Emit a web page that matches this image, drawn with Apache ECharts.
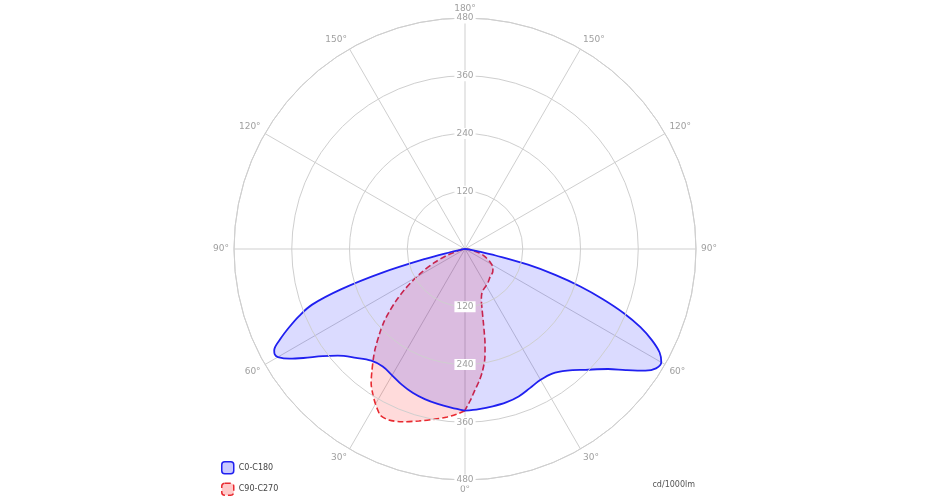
<!DOCTYPE html>
<html>
<head>
<meta charset="utf-8">
<script src="https://cdn.jsdelivr.net/npm/echarts@6/dist/echarts.min.js"></script>
<style>
  html, body { margin: 0; padding: 0; background: #fff; }
  #polarchart { width: 930px; height: 500px; }
</style>
</head>
<body>
<div id="polarchart"></div>
<script>
// gamma = angle from straight down (nadir), cd/1000lm values
const c180Gamma = [0, 5, 10, 15, 20, 25, 30, 35, 40, 45, 50, 53, 56, 58, 60, 61, 62, 64, 66, 68, 70, 72, 74, 76, 78, 80, 85, 90]
const c180Value = [336, 331, 327, 323, 318, 311, 303, 298, 303, 320, 345, 370, 405, 430, 449, 452, 449, 427, 400, 372, 338, 270, 180, 85, 30, 12, 4, 0]

const c0Gamma = [0, 5, 10, 15, 20, 25, 30, 35, 40, 45, 50, 53, 56, 58, 60, 62, 64, 66, 68, 70, 72, 74, 76, 78, 80, 85, 90]
const c0Value = [336, 334, 332, 330, 326, 319, 314, 316, 330, 355, 388, 418, 452, 468, 471, 458, 432, 399, 356, 305, 252, 195, 135, 65, 30, 8, 0]

const c270Gamma = [0, 3, 6, 10, 15, 20, 24, 27, 28, 30, 32, 35, 37, 40, 42, 45, 48, 50, 53, 56, 59, 62, 66, 70, 73, 78, 85, 90]
const c270Value = [336, 344, 351, 359, 370, 382, 389, 388, 383, 372, 360, 340, 322, 296, 279, 252, 227, 208, 180, 152, 125, 100, 70, 42, 24, 10, 3, 0]

const c90Gamma = [0, 2, 4, 6, 8, 10, 11, 12, 13, 14, 16, 18, 21, 25, 30, 35, 42, 50, 56, 63, 70, 75, 80, 85, 90]
const c90Value = [335, 315, 294, 277, 258, 235, 218, 200, 178, 158, 128, 110, 98, 92, 88, 84, 78, 75, 70, 58, 42, 30, 15, 6, 0]

const seriesNames = ['C0-C180', 'C90-C270']
const radiusTicks = [0, 120, 240, 360, 480]
const unitText = 'cd/1000lm'

// left half runs 0..90 clockwise from the bottom, right half 270..360
const buildLoop = (leftG, leftV, rightG, rightV) => {
    let pts = []
    for (let i = 0; i < leftG.length; i++) {
        pts.push([leftV[i], leftG[i]])
    }
    for (let i = rightG.length - 1; i >= 0; i--) {
        pts.push([rightV[i], 360 - rightG[i]])
    }
    return pts
}

const blueLoop = buildLoop(c180Gamma, c180Value, c0Gamma, c0Value)
const redLoop = buildLoop(c270Gamma, c270Value, c90Gamma, c90Value)

const rMax = radiusTicks[radiusTicks.length - 1]
const rStep = radiusTicks[1] - radiusTicks[0]
const gray = '#cfcfcf'
const labelFont = 'DejaVu Sans'

const radiusLabel = {
    show: true,
    margin: 0,
    align: 'center',
    verticalAlign: 'middle',
    color: '#a0a0a0',
    fontSize: 9,
    fontFamily: labelFont,
    backgroundColor: '#fff',
    padding: [1, 2],
    showMinLabel: false,
    formatter: (v) => v === 0 ? '' : String(v)
}

const chart_opt = () => {
    return {
        animation: false,
        backgroundColor: '#fff',
        title: {
            text: unitText,
            right: 230,
            bottom: 6,
            textStyle: { fontSize: 8, fontWeight: 'normal', color: '#555', fontFamily: labelFont }
        },
        legend: {
            orient: 'vertical',
            left: 221,
            top: 461,
            padding: 0,
            itemWidth: 12,
            itemHeight: 12,
            itemGap: 8,
            icon: 'roundRect',
            textStyle: { fontSize: 8, color: '#444', fontFamily: labelFont },
            data: [
                {
                    name: seriesNames[0],
                    itemStyle: { color: 'rgba(40,40,255,0.25)', borderColor: '#2020f0', borderWidth: 1.5 }
                },
                {
                    name: seriesNames[1],
                    itemStyle: { color: 'rgba(255,40,40,0.25)', borderColor: '#e82a30', borderWidth: 1.5, borderType: 'dashed' }
                }
            ]
        },
        polar: [
            { center: [465, 249], radius: 231 },
            { center: [465, 249], radius: 231 }
        ],
        angleAxis: [
            {
                polarIndex: 0,
                type: 'value',
                min: 0,
                max: 360,
                interval: 30,
                startAngle: 270,
                clockwise: true,
                axisLine: { lineStyle: { color: gray, width: 1 } },
                axisTick: { show: false },
                splitLine: { lineStyle: { color: gray, width: 1 } },
                axisLabel: {
                    margin: 5,
                    color: '#a0a0a0',
                    fontSize: 9,
                    fontFamily: labelFont,
                    formatter: (v) => v === 360 ? '' : (v <= 180 ? v : 360 - v) + '°'
                }
            },
            {
                polarIndex: 1,
                type: 'value',
                min: 0,
                max: 360,
                startAngle: 90,
                axisLine: { show: false },
                axisTick: { show: false },
                axisLabel: { show: false },
                splitLine: { show: false }
            }
        ],
        radiusAxis: [
            {
                polarIndex: 0,
                type: 'value',
                min: 0,
                max: rMax,
                interval: rStep,
                z: 5,
                axisLine: { show: false },
                axisTick: { show: false },
                splitLine: { lineStyle: { color: gray, width: 1 } },
                axisLabel: radiusLabel
            },
            {
                polarIndex: 1,
                type: 'value',
                min: 0,
                max: rMax,
                interval: rStep,
                z: 5,
                axisLine: { show: false },
                axisTick: { show: false },
                splitLine: { show: false },
                axisLabel: radiusLabel
            }
        ],
        series: [
            {
                name: seriesNames[1],
                type: 'line',
                coordinateSystem: 'polar',
                polarIndex: 0,
                smooth: 0.3,
                symbol: 'none',
                z: 2,
                itemStyle: { color: 'rgba(255,40,40,0.25)', borderColor: '#e82a30' },
                lineStyle: { color: '#e82a30', width: 1.6, type: [6, 3] },
                areaStyle: { color: 'rgba(255,0,0,0.2)' },
                data: redLoop
            },
            {
                name: seriesNames[0],
                type: 'line',
                coordinateSystem: 'polar',
                polarIndex: 0,
                smooth: 0.35,
                symbol: 'none',
                z: 3,
                itemStyle: { color: 'rgba(40,40,255,0.25)', borderColor: '#2020f0' },
                lineStyle: { color: '#2020f0', width: 1.8 },
                areaStyle: { color: 'rgba(0,0,255,0.2)' },
                data: blueLoop
            }
        ]
    }
}

const chart_d = echarts.init(document.getElementById('polarchart'), null, { renderer: 'canvas' })
chart_d.setOption(chart_opt())
</script>
</body>
</html>
